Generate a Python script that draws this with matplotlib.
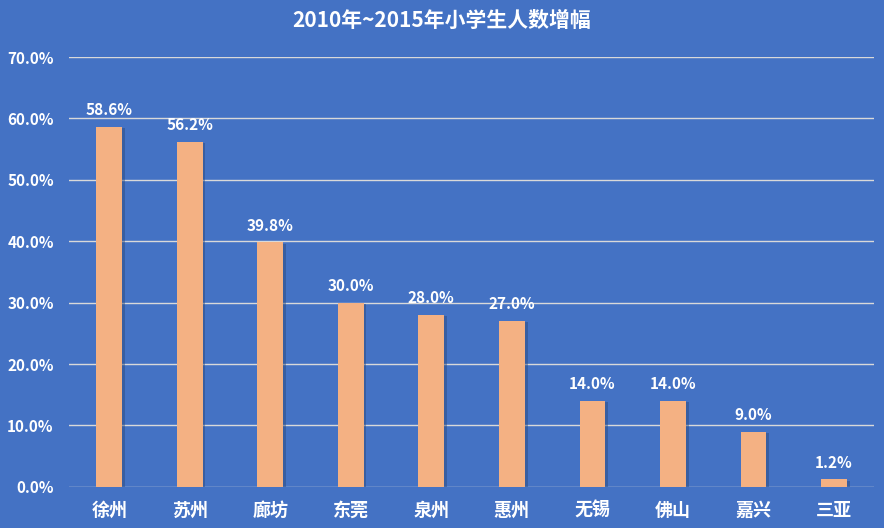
import matplotlib.pyplot as plt
import matplotlib.patheffects as pe
import numpy as np
from matplotlib.ticker import PercentFormatter

plt.rcParams["font.family"] = ["Noto Sans CJK SC", "DejaVu Sans"]

cities = ["徐州", "苏州", "廊坊", "东莞", "泉州", "惠州", "无锡", "佛山", "嘉兴", "三亚"]
growth = [58.6, 56.2, 39.8, 30.0, 28.0, 27.0, 14.0, 14.0, 9.0, 1.2]

BG = "#4472C4"
BAR = "#F4B183"

fig = plt.figure(figsize=(8.84, 5.28), dpi=100, facecolor=BG)
ax = fig.add_axes([0.078, 0.078, 0.911, 0.814], facecolor=BG)

x = np.arange(len(cities))
bars = ax.bar(x, growth, 0.32, color=BAR, zorder=3,
              path_effects=[pe.SimplePatchShadow(offset=(2, -1), shadow_rgbFace="#2a4677", alpha=0.45), pe.Normal()])

for b, v in zip(bars, growth):
    ax.text(b.get_x() + b.get_width() / 2, v + 1.4, f"{v:.1f}%", ha="center", va="bottom",
            color="white", fontsize=11, fontweight="bold")

ax.set_xlim(-0.5, len(cities) - 0.5)
ax.set_ylim(0, 70)
ax.set_yticks(np.arange(0, 71, 10))
ax.yaxis.set_major_formatter(PercentFormatter(decimals=1))
ax.grid(axis="y", color="#d9d9d9", linewidth=1, zorder=0)
ax.set_xticks(x, cities)
for s in ax.spines.values():
    s.set_visible(False)
ax.tick_params(length=0, colors="white", labelsize=11)
ax.tick_params(axis="x", pad=10, labelsize=13)
ax.tick_params(axis="y", pad=11)
for lbl in ax.get_yticklabels() + ax.get_xticklabels():
    lbl.set_fontweight("bold")

fig.text(0.5, 0.962, "2010年~2015年小学生人数增幅", ha="center", va="center",
         color="white", fontsize=15, fontweight="bold")

fig.savefig("out.png", dpi=100, facecolor=BG)
